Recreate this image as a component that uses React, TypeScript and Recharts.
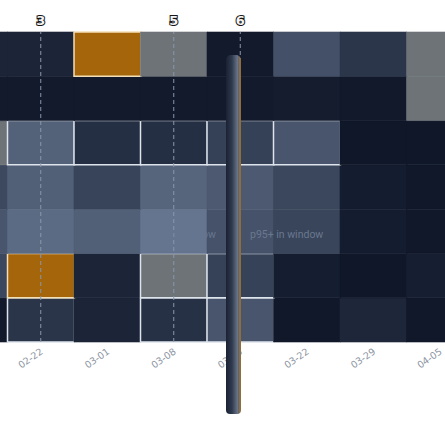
import { BarChart, Bar, Cell, XAxis, YAxis, ReferenceLine } from "recharts";

type Level = number | "p95" | "gap";

const WEEKS = ["02-15", "02-22", "03-01", "03-08", "03-15", "03-22", "03-29", "04-05"];
const DAYS = ["Mon", "Tue", "Wed", "Thu", "Fri", "Sat", "Sun"];

// intensity 0..100 per week, "p95" = p95+ in window, "gap" = grey
const MON: Level[] = [14, 14, "p95", "gap", 3, 58, 31, "gap"];
const TUE: Level[] = [3, 3, 3, 3, 3, 5, 2, "gap"];
const WED: Level[] = ["gap", 75, 24, 24, 42, 63, 0, 0];
const THU: Level[] = [50, 73, 45, 78, 67, 48, 6, 1];
const FRI: Level[] = [63, 85, 73, 95, 60, 46, 6, 1];
const SAT: Level[] = [48, "p95", 14, "gap", 43, 7, 0, 8];
const SUN: Level[] = [2, 30, 14, 26, 63, 1, 16, 1];

// week indexes outlined as "in window"
const MON_WIN = [2];
const TUE_WIN: number[] = [];
const WED_WIN = [1, 2, 3, 4, 5];
const THU_WIN: number[] = [];
const FRI_WIN: number[] = [];
const SAT_WIN = [1, 3, 4];
const SUN_WIN = [1, 3, 4];

const MARK_WEEKS = ["02-22", "03-08", "03-15"];
const MARK_LABELS = ["3", "5", "6"];

const ROWS: Level[][] = [MON, TUE, WED, THU, FRI, SAT, SUN];
const WINS: number[][] = [MON_WIN, TUE_WIN, WED_WIN, THU_WIN, FRI_WIN, SAT_WIN, SUN_WIN];

const LOW = [15, 23, 41];
const HIGH = [106, 122, 148];

// chart is scrolled left so the 02-15 column is mostly hidden
const SHIFT = 59.5;

function cellColor(v: Level) {
  if (v === "p95") return "#a5650a";
  if (v === "gap") return "#6e7378";
  const t = v / 100;
  const c = LOW.map((l, i) => Math.round(l + (HIGH[i] - l) * t));
  return `rgb(${c[0]},${c[1]},${c[2]})`;
}

const data = WEEKS.map((week) => {
  const row: Record<string, string | number> = { week };
  DAYS.forEach((d) => (row[d] = 1));
  return row;
});

function WeekTick({ x, y, payload }: any) {
  if (x + 3 - SHIFT < 0) return null;
  return (
    <text
      x={x + 3}
      y={y + 11}
      transform={`rotate(-35, ${x + 3}, ${y + 11})`}
      textAnchor="end"
      fill="#8b93a1"
      fontSize={9.5}
      fontFamily="DejaVu Sans"
    >
      {payload.value}
    </text>
  );
}

function MarkLabel({ viewBox, text }: any) {
  return (
    <text
      x={viewBox.x}
      y={viewBox.y - 7}
      textAnchor="middle"
      fontSize={13}
      fontWeight="bold"
      fontFamily="DejaVu Sans"
      fill="#f4f4f4"
      stroke="#161616"
      strokeWidth={2}
      paintOrder="stroke"
    >
      {text}
    </text>
  );
}

export default function App() {
  // bottom row first so upper rows stack on top
  const order = DAYS.map((_, i) => DAYS.length - 1 - i);
  return (
    <div style={{ position: "fixed", left: 0, top: 0, width: 445, height: 427, overflow: "hidden", background: "#fff" }}>
      <div style={{ position: "absolute", left: -SHIFT, top: 0 }}>
        <BarChart
          width={532}
          height={427}
          data={data}
          margin={{ top: 32, right: 0, bottom: 0, left: 0 }}
          barCategoryGap={0}
          barGap={0}
        >
          <XAxis
            dataKey="week"
            height={85}
            interval={0}
            tickLine={false}
            axisLine={false}
            tickSize={0}
            tickMargin={0}
            tick={<WeekTick />}
          />
          <YAxis type="number" domain={[0, 7]} hide />
          {order.map((r) => (
            <Bar key={DAYS[r]} dataKey={DAYS[r]} stackId="days" isAnimationActive={false}>
              {ROWS[r].map((v, i) => {
                const boxed = WINS[r].includes(i);
                const fill = cellColor(v);
                return (
                  <Cell
                    key={i}
                    fill={fill}
                    stroke={boxed ? (v === "p95" ? "#f3dfb8" : "#dde4ec") : fill}
                    strokeWidth={boxed ? 1.5 : 0.6}
                  />
                );
              })}
            </Bar>
          ))}
          {MARK_WEEKS.map((w, i) => (
            <ReferenceLine
              key={w}
              x={w}
              stroke="#8a97ac"
              strokeDasharray="4 3"
              strokeWidth={1}
              label={<MarkLabel text={MARK_LABELS[i]} />}
            />
          ))}
        </BarChart>
      </div>
      <svg width={445} height={427} style={{ position: "absolute", left: 0, top: 0, pointerEvents: "none" }}>
        <text x={216} y={238} textAnchor="end" fontSize={10.5} fontFamily="Roboto" fill="#67768f">
          p5− in window
        </text>
        <text x={250} y={238} fontSize={10.5} fontFamily="Roboto" fill="#6a788f">
          p95+ in window
        </text>
      </svg>
      <div
        style={{
          position: "absolute",
          left: 226,
          top: 55,
          width: 14.5,
          height: 359,
          borderRadius: "5px 5px 4px 4px",
          background:
            "linear-gradient(to right, #1a2233 0%, #2f3a4e 40%, #6a7689 78%, #4f596c 88%, #8f6d3c 90%, #8f6d3c 100%)",
        }}
      />
    </div>
  );
}
